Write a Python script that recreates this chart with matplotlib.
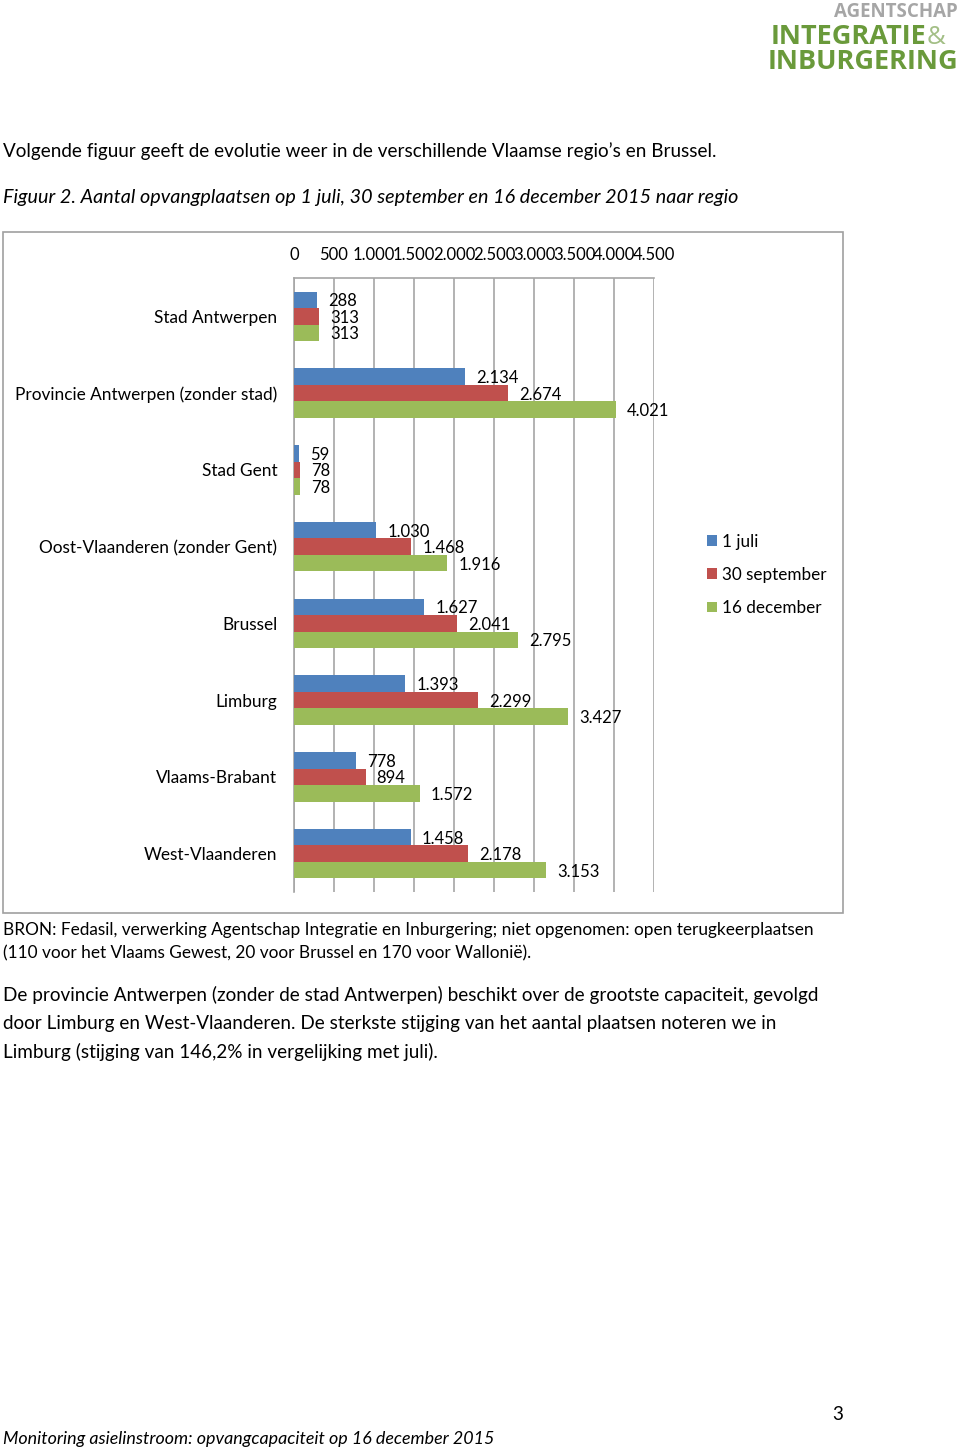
import matplotlib
matplotlib.use("Agg")
import matplotlib.pyplot as plt
from matplotlib.patches import Rectangle

regions = ["Stad Antwerpen", "Provincie Antwerpen (zonder stad)", "Stad Gent",
           "Oost-Vlaanderen (zonder Gent)", "Brussel", "Limburg",
           "Vlaams-Brabant", "West-Vlaanderen"]
juli = [288, 2134, 59, 1030, 1627, 1393, 778, 1458]
september = [313, 2674, 78, 1468, 2041, 2299, 894, 2178]
december = [313, 4021, 78, 1916, 2795, 3427, 1572, 3153]
series_names = ["1 juli", "30 september", "16 december"]
ticks = list(range(0, 5000, 500))

colors = ["#4F81BD", "#C0504D", "#9BBB59"]
FONT = "Lato"
LOGO = "Open Sans"
W, H = 960, 1450


def fx(px):
    return px / W


def fy(py):
    return 1 - py / H


def nl(v):
    return f"{v:,}".replace(",", ".")


plt.rcParams['font.family'] = [FONT, 'DejaVu Sans']
fig = plt.figure(figsize=(W / 100, H / 100), dpi=100)

# logo
fig.text(fx(958), fy(17), "AGENTSCHAP", ha="right", va="baseline", family=LOGO,
         fontsize=13.5, fontweight="bold", color="#a6a6a6")
fig.text(fx(926), fy(44), "INTEGRATIE", ha="right", va="baseline", family=LOGO,
         fontsize=19.5, fontweight="bold", color="#6a9a3b")
fig.text(fx(927), fy(44), "&", ha="left", va="baseline", family=LOGO,
         fontsize=18.5, color="#a3bf86")
fig.text(fx(958), fy(69), "INBURGERING", ha="right", va="baseline", family=LOGO,
         fontsize=19.5, fontweight="bold", color="#6a9a3b")

# page text
body = 13.55
fig.text(fx(3), fy(151), "Volgende figuur geeft de evolutie weer in de verschillende Vlaamse regio’s en Brussel.",
         va="center", fontsize=body)
fig.text(fx(3), fy(198), "Figuur 2. Aantal opvangplaatsen op 1 juli, 30 september en 16 december 2015 naar regio",
         va="center", fontsize=14.2, style="italic")
fig.text(fx(3), fy(930), "BRON: Fedasil, verwerking Agentschap Integratie en Inburgering; niet opgenomen: open terugkeerplaatsen",
         va="center", fontsize=12.4)
fig.text(fx(3), fy(953), "(110 voor het Vlaams Gewest, 20 voor Brussel en 170 voor Wallonië).",
         va="center", fontsize=12.4)
fig.text(fx(3), fy(995), "De provincie Antwerpen (zonder de stad Antwerpen) beschikt over de grootste capaciteit, gevolgd",
         va="center", fontsize=body)
fig.text(fx(3), fy(1023), "door Limburg en West-Vlaanderen. De sterkste stijging van het aantal plaatsen noteren we in",
         va="center", fontsize=body)
fig.text(fx(3), fy(1052), "Limburg (stijging van 146,2% in vergelijking met juli).",
         va="center", fontsize=body)
fig.text(fx(838), fy(1415), "3", ha="center", va="center", fontsize=body)
fig.text(fx(3), fy(1439), "Monitoring asielinstroom: opvangcapaciteit op 16 december 2015",
         va="center", fontsize=12.9, style="italic")

# chart frame
fig.patches.append(Rectangle((fx(3), fy(913)), fx(840), (913 - 232) / H,
                             transform=fig.transFigure, fill=False,
                             edgecolor="#a0a0a0", linewidth=1.2))

ax = fig.add_axes([fx(294), fy(892), fx(360), (892 - 278) / H])
bh = 0.215
ypos = list(range(len(regions)))
for k, vals in enumerate([juli, september, december]):
    ys = [y + (k - 1) * bh for y in ypos]
    ax.barh(ys, vals, height=bh, color=colors[k], label=series_names[k], zorder=3)
    for y, v in zip(ys, vals):
        ax.annotate(nl(v), (v, y), xytext=(8, -1), textcoords="offset points",
                    ha="left", va="center", fontsize=12, zorder=4)

ax.set_xlim(0, 4500)
ax.set_ylim(len(regions) - 0.5, -0.5)
ax.set_xticks(ticks)
ax.set_xticklabels([nl(t) for t in ticks])
ax.xaxis.tick_top()
ax.tick_params(axis="x", length=0, pad=11, labelsize=12)
ax.set_yticks(ypos)
ax.set_yticklabels(regions)
ax.tick_params(axis="y", length=0, pad=12, labelsize=12.4)
ax.grid(axis="x", color="#a6a6a6", linewidth=1.2, zorder=0)
for s in ["bottom", "right"]:
    ax.spines[s].set_visible(False)
for s in ["top", "left"]:
    ax.spines[s].set_color("#a6a6a6")
    ax.spines[s].set_linewidth(1.2)

leg = ax.legend(loc="upper left", bbox_to_anchor=(fx(700), fy(527)),
                bbox_transform=fig.transFigure, frameon=False,
                fontsize=12.3, handlelength=0.6, handleheight=0.6,
                handletextpad=0.3, labelspacing=1.0, borderaxespad=0)

fig.savefig("out.png", dpi=100)
